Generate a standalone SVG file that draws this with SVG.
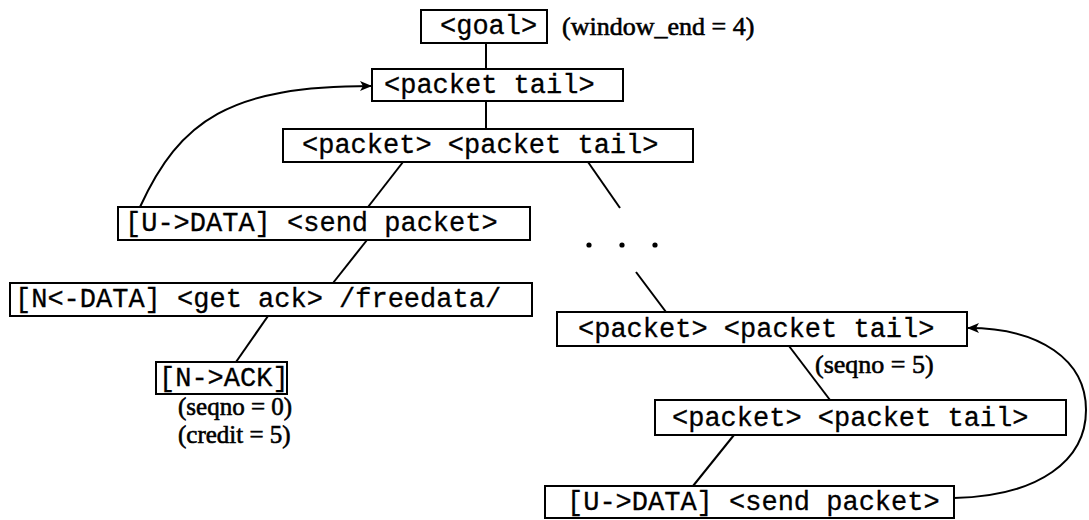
<svg xmlns="http://www.w3.org/2000/svg" width="1089" height="520" viewBox="0 0 1089 520">
  <style>
    .box { fill: #ffffff; stroke: #000000; stroke-width: 2; }
    .mono { font-family: "Liberation Mono", "Courier New", monospace; font-size: 27px; fill: #000000; stroke: #000000; stroke-width: 0.3; }
    .note { font-family: "Liberation Serif", "Times New Roman", serif; font-size: 25px; fill: #000000; stroke: #000000; stroke-width: 0.6; }
    .big { font-size: 26px; }
    .edge { fill: none; stroke: #000000; stroke-width: 2; }
    .dot { fill: #000000; }
  </style>
  <defs>
    <marker id="arrow" viewBox="0 0 12 10" refX="11" refY="5" markerWidth="12" markerHeight="10" markerUnits="userSpaceOnUse" orient="auto">
      <path d="M0,0 L12,5 L0,10 L3,5 Z" fill="#000000"/>
    </marker>
  </defs>
  <rect width="1089" height="520" fill="#ffffff"/>

  <g id="connectors">
    <line class="edge" x1="486" y1="43" x2="486" y2="69"/>
    <line class="edge" x1="486" y1="101" x2="486" y2="129"/>
    <line class="edge" x1="403" y1="162" x2="368" y2="207"/>
    <line class="edge" x1="588" y1="162" x2="620" y2="208"/>
    <line class="edge" x1="367" y1="240" x2="333" y2="283"/>
    <line class="edge" x1="268" y1="316" x2="236" y2="362"/>
    <line class="edge" x1="636" y1="272" x2="666" y2="312"/>
    <line class="edge" x1="789" y1="346" x2="830" y2="400"/>
    <line class="edge" x1="734" y1="435" x2="693" y2="486"/>
    <path class="edge" d="M140,207 C180,120 230,86 371,86" marker-end="url(#arrow)"/>
    <path class="edge" d="M954,498 C1040,496 1086,460 1086,410 C1086,360 1040,328 968,328" marker-end="url(#arrow)"/>
    <circle class="dot" cx="589" cy="245" r="2.6"/>
    <circle class="dot" cx="622" cy="245" r="2.6"/>
    <circle class="dot" cx="655" cy="245" r="2.6"/>
  </g>

  <g id="goal">
    <rect class="box" x="421" y="10" width="126" height="33"/>
    <text class="mono" x="440" y="34">&lt;goal&gt;</text>
  </g>
  <g id="window-end-note">
    <text class="note big" x="562" y="35">(window_end = 4)</text>
  </g>

  <g id="packet-tail-1">
    <rect class="box" x="372" y="69" width="251" height="32"/>
    <text class="mono" x="384" y="93">&lt;packet tail&gt;</text>
  </g>

  <g id="packet-packet-tail-1">
    <rect class="box" x="283" y="129" width="410" height="33"/>
    <text class="mono" x="302" y="153">&lt;packet&gt; &lt;packet tail&gt;</text>
  </g>

  <g id="send-packet-1">
    <rect class="box" x="118" y="207" width="412" height="33"/>
    <text class="mono" x="125" y="231">[U-&gt;DATA] &lt;send packet&gt;</text>
  </g>

  <g id="get-ack">
    <rect class="box" x="10" y="283" width="522" height="33"/>
    <text class="mono" x="15" y="307">[N&lt;-DATA] &lt;get ack&gt; /freedata/</text>
  </g>

  <g id="n-ack">
    <rect class="box" x="156" y="362" width="131" height="32"/>
    <text class="mono" x="159" y="386">[N-&gt;ACK]</text>
    <text class="note" x="178" y="415">(seqno = 0)</text>
    <text class="note" x="178" y="443">(credit = 5)</text>
  </g>

  <g id="packet-packet-tail-2">
    <rect class="box" x="557" y="312" width="410" height="34"/>
    <text class="mono" x="578" y="337">&lt;packet&gt; &lt;packet tail&gt;</text>
    <text class="note big" x="815" y="373">(seqno = 5)</text>
  </g>

  <g id="packet-packet-tail-3">
    <rect class="box" x="655" y="400" width="411" height="35"/>
    <text class="mono" x="672" y="426">&lt;packet&gt; &lt;packet tail&gt;</text>
  </g>

  <g id="send-packet-2">
    <rect class="box" x="545" y="486" width="409" height="32"/>
    <text class="mono" x="567" y="510">[U-&gt;DATA] &lt;send packet&gt;</text>
  </g>
</svg>
